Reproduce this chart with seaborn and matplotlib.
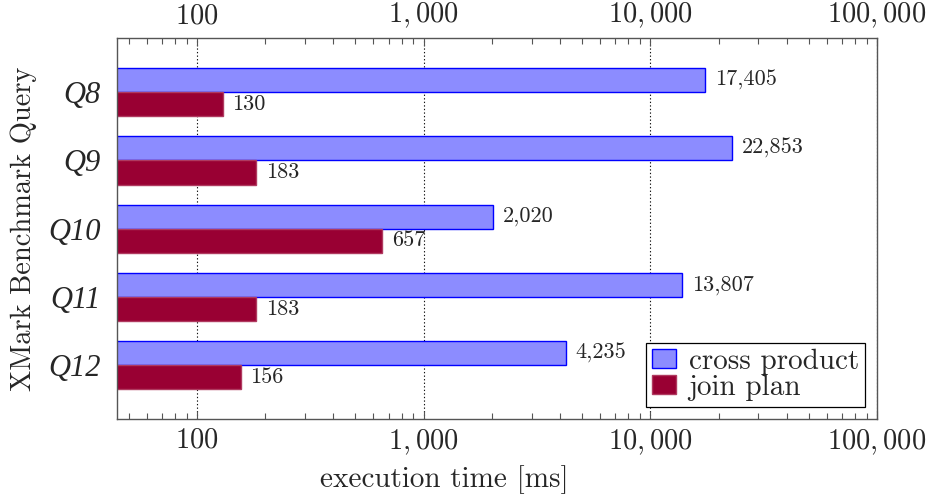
import matplotlib
matplotlib.use("Agg")
import matplotlib.pyplot as plt
import seaborn as sns
import pandas as pd
from matplotlib.ticker import FixedLocator, FixedFormatter, LogLocator, NullFormatter

# data
queries = ["Q8", "Q9", "Q10", "Q11", "Q12"]
cross_product = [17405, 22853, 2020, 13807, 4235]
join_plan = [130, 183, 657, 183, 156]
series_names = ["cross product", "join plan"]
major_ticks = [100, 1000, 10000, 100000]
tick_labels = ["100", "1,000", "10,000", "100,000"]

df = pd.DataFrame({
    "query": queries * 2,
    "time": cross_product + join_plan,
    "plan": [series_names[0]] * len(queries) + [series_names[1]] * len(queries),
})

sns.set_style("white")
plt.rcParams["font.family"] = ["cmr10", "DejaVu Serif"]
plt.rcParams["mathtext.fontset"] = "cm"
plt.rcParams["axes.formatter.use_mathtext"] = True

fig = plt.figure(figsize=(9.29, 4.96), dpi=100)
ax = fig.add_axes([0.126, 0.155, 0.818, 0.768])

fill_colors = {"cross product": "#8c8cff", "join plan": "#990033"}
edge_colors = ["#0000ff", "#b03a60"]

ax = sns.barplot(
    data=df,
    y="query",
    x="time",
    hue="plan",
    order=queries,
    hue_order=series_names,
    palette=fill_colors,
    orient="h",
    width=0.706,
    saturation=1,
    ax=ax,
)
ax.set_xscale("log")

for cont, ec in zip(ax.containers, edge_colors):
    for patch in cont:
        patch.set_edgecolor(ec)
        patch.set_linewidth(1.0)

for cont, vals in zip(ax.containers, [cross_product, join_plan]):
    ax.bar_label(cont, labels=[f"{v:,}" for v in vals], padding=7, fontsize=16)

ax.set_xlim(44.4, 100000)
ax.set_ylim(4.794, -0.794)

ax.xaxis.set_major_locator(FixedLocator(major_ticks))
ax.xaxis.set_major_formatter(FixedFormatter([f"${t}$" for t in tick_labels]))
ax.xaxis.set_minor_locator(LogLocator(base=10, subs=range(2, 10), numticks=20))
ax.xaxis.set_minor_formatter(NullFormatter())

ax.tick_params(axis="x", which="both", direction="in", top=True, bottom=True,
               labeltop=True, labelbottom=True, color="#555555", width=0.8,
               labelsize=20.5, pad=6)
ax.tick_params(axis="x", which="major", length=6)
ax.tick_params(axis="x", which="minor", length=4)
ax.tick_params(axis="y", length=0, pad=12)

ax.set_yticks(range(len(queries)))
ax.set_yticklabels(queries, fontfamily="Liberation Serif", fontstyle="italic",
                   fontsize=22)

ax.grid(axis="x", which="major", linestyle=(0, (1.2, 2.0)), color="#111111",
        linewidth=0.8)
ax.grid(axis="y", visible=False)
ax.set_axisbelow(True)

for sp in ax.spines.values():
    sp.set_color("#555555")
    sp.set_linewidth(1.0)

ax.set_xlabel("execution time [ms]", fontsize=21)
ax.xaxis.set_label_coords(0.43, -0.12)
ax.set_ylabel("XMark Benchmark Query", fontsize=20.5, labelpad=8)

leg = ax.legend(
    loc="lower right",
    fontsize=21,
    frameon=True,
    fancybox=False,
    edgecolor="black",
    framealpha=1,
    handlelength=0.82,
    handleheight=0.62,
    handletextpad=0.45,
    labelspacing=0.0,
    borderpad=0.2,
    borderaxespad=0.42,
)
leg.get_frame().set_linewidth(0.9)
for h, ec in zip(leg.legend_handles, edge_colors):
    h.set_edgecolor(ec)
    h.set_linewidth(1.0)

fig.savefig("out.png", dpi=100)
